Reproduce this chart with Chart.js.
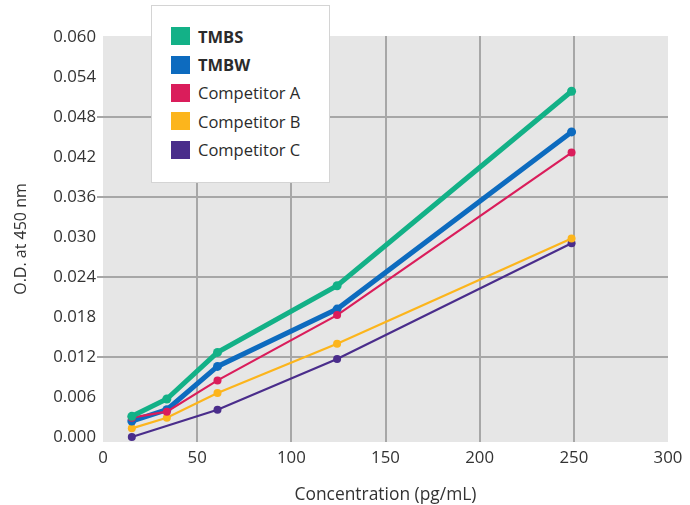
<!DOCTYPE html>
<html>
<head>
<meta charset="utf-8">
<script src="https://cdn.jsdelivr.net/npm/chart.js@4/dist/chart.umd.min.js"></script>
<style>
  html, body { margin: 0; padding: 0; background: #ffffff; }
  #wrap { position: relative; width: 690px; height: 505px; }
  #legend {
    position: absolute; left: 151px; top: 5px; width: 179px; height: 178px;
    background: #ffffff; border: 1px solid #d4d4d4;
    font-family: "Open Sans", sans-serif; font-size: 16.5px; color: #2b2b2b;
    box-sizing: border-box; padding-top: 16px;
  }
  .item { display: flex; align-items: center; height: 28.4px; padding-left: 19px; }
  .sw { width: 19px; height: 18px; margin-right: 8px; }
  .bold { font-weight: 700; }
</style>
</head>
<body>
<div id="wrap">
  <canvas id="c" width="690" height="505"></canvas>
  <div id="legend"></div>
</div>
<script>
// ---- data ----
const concentrations = [15.3, 33.9, 60.8, 124.3, 248.8];
const tmbs  = [0.0031, 0.0057, 0.0127, 0.0227, 0.0519];
const tmbw  = [0.0024, 0.0041, 0.0106, 0.0192, 0.0458];
const compA = [0.0029, 0.0038, 0.0085, 0.0183, 0.0427];
const compB = [0.0013, 0.0029, 0.0066, 0.0140, 0.0298];
const compC = [0.0000, null,   0.0041, 0.0117, 0.0291];
const seriesNames = ["TMBS", "TMBW", "Competitor A", "Competitor B", "Competitor C"];
const yTicks = [0, 0.006, 0.012, 0.018, 0.024, 0.030, 0.036, 0.042, 0.048, 0.054, 0.060];
const xTicks = [0, 50, 100, 150, 200, 250, 300];

const colors = ["#13b187", "#0d6bbf", "#da1d5b", "#fcb51c", "#4a2d8b"];
const widths = [5, 5, 2.2, 2.2, 2.2];
const radii  = [4.5, 4.5, 4, 4, 4];
const orders = [0, 2, 1, 3, 4];
const allSeries = [tmbs, tmbw, compA, compB, compC];

const toPoints = arr => concentrations.map((x, i) => ({ x: x, y: arr[i] }));

const datasets = allSeries.map((s, i) => ({
  label: seriesNames[i],
  data: toPoints(s),
  borderColor: colors[i],
  backgroundColor: colors[i],
  borderWidth: widths[i],
  pointRadius: radii[i],
  pointBorderWidth: 0,
  pointBackgroundColor: colors[i],
  showLine: true,
  spanGaps: true,
  tension: 0,
  order: orders[i]
}));

// HTML legend
const legend = document.getElementById('legend');
seriesNames.forEach((n, i) => {
  const d = document.createElement('div');
  d.className = 'item';
  d.innerHTML = '<span class="sw" style="background:' + colors[i] + '"></span><span class="' + (i < 2 ? 'bold' : '') + '">' + n + '</span>';
  legend.appendChild(d);
});

const bgPlugin = {
  id: 'plotBg',
  beforeDraw(chart) {
    const a = chart.chartArea, ctx = chart.ctx;
    ctx.save();
    ctx.fillStyle = '#e6e6e6';
    ctx.fillRect(a.left, a.top, a.right - a.left, a.bottom - a.top);
    ctx.restore();
  }
};

const gridCol = '#a7a7a7';
const font = { family: '"Open Sans", sans-serif', size: 16.8 };
const isGridY = c => { const v = c.tick ? c.tick.value : 0; const k = Math.round(v / 0.012); return v > 0.001 && v < 0.059 && Math.abs(v - k * 0.012) < 1e-6; };

new Chart(document.getElementById('c'), {
  type: 'scatter',
  data: { datasets: datasets },
  plugins: [bgPlugin],
  options: {
    responsive: false,
    animation: false,
    layout: { padding: { top: 36, right: 22, left: 0, bottom: 0 } },
    plugins: { legend: { display: false }, tooltip: { enabled: false } },
    scales: {
      x: {
        type: 'linear', min: 0, max: 300,
        afterBuildTicks: s => { s.ticks = xTicks.map(v => ({ value: v })); },
        afterFit: s => { s.height = 63; },
        border: { display: false },
        grid: {
          drawTicks: false, lineWidth: 2,
          color: c => (c.tick && c.tick.value > 0 && c.tick.value < 300) ? gridCol : 'rgba(0,0,0,0)'
        },
        ticks: { font: font, color: '#333333', padding: 6, maxRotation: 0 },
        title: { display: true, text: 'Concentration (pg/mL)', font: { family: '"Open Sans", sans-serif', size: 17.4 }, color: '#333333', padding: { top: 0, bottom: 0 } }
      },
      y: {
        type: 'linear', min: -0.00075, max: 0.0602,
        afterBuildTicks: s => { s.ticks = yTicks.map(v => ({ value: v })); },
        afterFit: s => { s.width = 103; },
        border: { display: false },
        grid: {
          drawTicks: true, tickLength: 6, lineWidth: 2,
          color: c => isGridY(c) ? gridCol : 'rgba(0,0,0,0)',
          tickColor: c => isGridY(c) ? gridCol : 'rgba(0,0,0,0)'
        },
        ticks: { font: font, color: '#333333', padding: 1, callback: v => Number(v).toFixed(3) },
        title: { display: true, text: 'O.D. at 450 nm', font: { family: '"Open Sans", sans-serif', size: 16 }, color: '#333333', padding: { top: 12, bottom: 0 } }
      }
    }
  }
});
</script>
</body>
</html>
